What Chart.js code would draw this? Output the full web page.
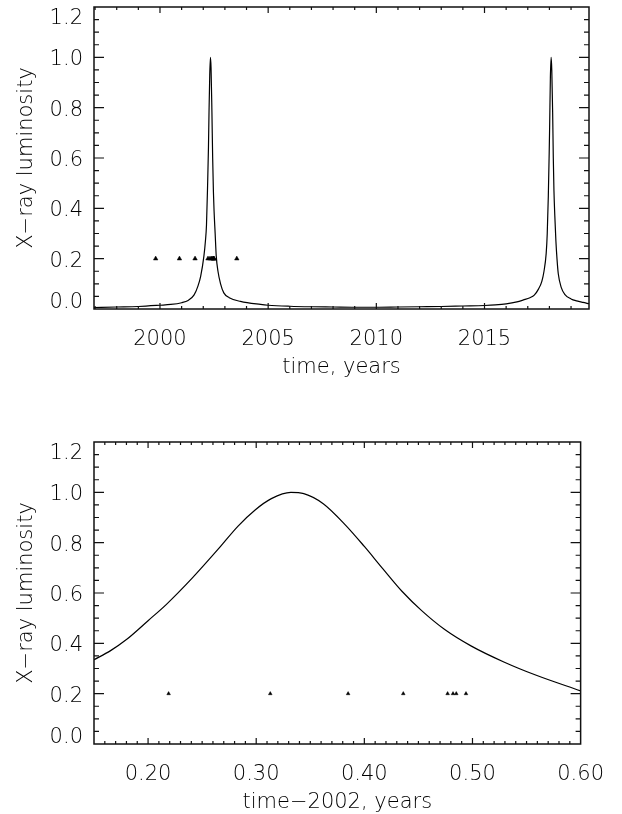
<!DOCTYPE html>
<html>
<head>
<meta charset="utf-8">
<script src="https://cdn.jsdelivr.net/npm/chart.js@4.4.1/dist/chart.umd.min.js"></script>
<style>
  html, body { margin: 0; padding: 0; background: #fff; }
  body { width: 622px; height: 814px; overflow: hidden; position: relative; }
  canvas { position: absolute; left: 0; }
  #topChart { top: 0; }
  #zoomChart { top: 435px; }
</style>
</head>
<body>
<canvas id="topChart" width="622" height="400"></canvas>
<canvas id="zoomChart" width="622" height="400"></canvas>
<script>
// --- top panel: model light curve over the whole cycle
const topYears = [1996.95, 1998.0, 1999.0, 2000.0, 2000.5, 2001.0, 2001.3, 2001.57, 2001.75, 2001.88,
    2002.03, 2002.1, 2002.15, 2002.2, 2002.24, 2002.265, 2002.3, 2002.332, 2002.36, 2002.4,
    2002.435, 2002.47, 2002.5, 2002.55, 2002.6, 2002.68, 2002.8, 2002.95, 2003.2, 2003.72,
    2004.65, 2005.0, 2006.0, 2007.0, 2008.0, 2009.0, 2010.0, 2011.0, 2012.0, 2013.0,
    2014.0, 2015.0, 2015.5, 2016.0, 2016.5, 2016.8, 2017.1, 2017.3, 2017.5, 2017.65,
    2017.75, 2017.85, 2017.9, 2017.95, 2017.99, 2018.01, 2018.045, 2018.08, 2018.11, 2018.15,
    2018.18, 2018.21, 2018.25, 2018.3, 2018.35, 2018.41, 2018.55, 2018.72, 2019.0, 2019.26,
    2019.55, 2019.83];
const topLum = [0.006, 0.008, 0.010, 0.015, 0.018, 0.025, 0.034, 0.055, 0.09, 0.13,
    0.21, 0.27, 0.335, 0.49, 0.64, 0.775, 0.93, 1.0, 0.96, 0.785,
    0.60, 0.465, 0.389, 0.30, 0.211, 0.15, 0.10, 0.064, 0.045, 0.030,
    0.018, 0.015, 0.011, 0.009, 0.008, 0.007, 0.007, 0.008, 0.009, 0.010,
    0.012, 0.014, 0.016, 0.020, 0.028, 0.036, 0.045, 0.055, 0.08, 0.11,
    0.15, 0.22, 0.30, 0.45, 0.62, 0.72, 0.92, 1.0, 0.95, 0.78,
    0.60, 0.47, 0.37, 0.27, 0.20, 0.14, 0.085, 0.057, 0.04, 0.032,
    0.026, 0.021];
const obsYears = [1999.8, 2000.9, 2001.62, 2002.219, 2002.313, 2002.385, 2002.436,
    2002.477, 2002.482, 2002.485, 2002.494, 2003.55];
const obsLevel = [0.2, 0.2, 0.2, 0.2, 0.2, 0.2, 0.2, 0.2, 0.2, 0.2, 0.2, 0.2];

// --- bottom panel: zoom on the 2002 maximum
const zoomPhase = [0.15, 0.165, 0.18, 0.20, 0.217, 0.241, 0.265, 0.283, 0.299, 0.314, 0.332, 0.344,
    0.362, 0.383, 0.40, 0.417, 0.435, 0.453, 0.474, 0.499, 0.529, 0.559, 0.60];
const zoomLum = [0.335, 0.37, 0.415, 0.49, 0.555, 0.66, 0.775, 0.865, 0.93, 0.975, 1.0, 0.995,
    0.955, 0.868, 0.785, 0.697, 0.606, 0.53, 0.456, 0.389, 0.326, 0.273, 0.211];
const obsPhase = [0.219, 0.313, 0.385, 0.436, 0.477, 0.482, 0.485, 0.494];
const obsPhaseLevel = [0.2, 0.2, 0.2, 0.2, 0.2, 0.2, 0.2, 0.2];

// tick labels
const topXTicks = [2000, 2005, 2010, 2015];
const zoomXTicks = [0.20, 0.30, 0.40, 0.50, 0.60];
const yTicks = [0.0, 0.2, 0.4, 0.6, 0.8, 1.0, 1.2];

const FONT = { family: '"DejaVu Sans", "Liberation Sans", sans-serif', size: 21, weight: '200' };

function minorList(from, to, step) {
    const out = [];
    for (let v = from; v <= to + step / 2; v += step) out.push(+v.toFixed(4));
    return out;
}

// IDL-style box: frame, inward ticks on all four sides, y labels
const boxPlugin = {
    id: 'idlBox',
    afterDraw(chart, args, opts) {
        const { ctx, chartArea: a, scales } = chart;
        const x = scales.x, y = scales.y;
        ctx.save();
        ctx.strokeStyle = '#111';
        ctx.lineWidth = 1.2;
        ctx.beginPath();
        const xt = (v, len) => {
            const p = x.getPixelForValue(v);
            if (p < a.left + 1 || p > a.right - 1) return;
            ctx.moveTo(p, a.bottom); ctx.lineTo(p, a.bottom - len);
            ctx.moveTo(p, a.top); ctx.lineTo(p, a.top + len);
        };
        const yt = (v, len) => {
            const p = y.getPixelForValue(v);
            if (p < a.top + 1 || p > a.bottom - 1) return;
            ctx.moveTo(a.left, p); ctx.lineTo(a.left + len, p);
            ctx.moveTo(a.right, p); ctx.lineTo(a.right - len, p);
        };
        opts.xMinor.forEach(v => xt(v, 3));
        opts.xMajor.forEach(v => xt(v, 6));
        opts.yMinor.forEach(v => yt(v, 5));
        opts.yMajor.forEach(v => yt(v, 10));
        ctx.stroke();
        ctx.lineWidth = 1.5;
        ctx.strokeRect(a.left, a.top, a.right - a.left, a.bottom - a.top);

        ctx.fillStyle = '#000';
        ctx.font = `${FONT.weight} ${FONT.size}px ${FONT.family}`;
        ctx.textAlign = 'right';
        ctx.textBaseline = 'alphabetic';
        opts.yMajor.forEach((v, i) => {
            const label = v.toFixed(1);
            const asc = ctx.measureText(label).actualBoundingBoxAscent;
            let base = y.getPixelForValue(v) + asc / 2;
            if (i === 0) base = a.bottom - 1;
            if (i === opts.yMajor.length - 1) base = a.top + 1 + asc;
            ctx.fillText(label, a.left - 11, base);
        });
        ctx.restore();
    }
};

function buildChart(id, cfg) {
    return new Chart(document.getElementById(id), {
        type: 'line',
        data: {
            datasets: [
                {
                    data: cfg.lineX.map((v, i) => ({ x: v, y: cfg.lineY[i] })),
                    borderColor: '#000',
                    borderWidth: 1.2,
                    pointRadius: 0,
                    cubicInterpolationMode: 'monotone',
                    fill: false
                },
                {
                    data: cfg.obsX.map((v, i) => ({ x: v, y: cfg.obsY[i] })),
                    showLine: false,
                    pointStyle: 'triangle',
                    pointRadius: cfg.markerSize,
                    pointBackgroundColor: '#000',
                    pointBorderColor: '#000',
                    pointBorderWidth: 0.5
                }
            ]
        },
        options: {
            responsive: false,
            animation: false,
            layout: { padding: { top: 7, right: 33, left: 0, bottom: 0 } },
            plugins: {
                legend: { display: false },
                tooltip: { enabled: false },
                idlBox: {
                    xMajor: cfg.xTicks,
                    xMinor: cfg.xMinor,
                    yMajor: yTicks,
                    yMinor: minorList(0, 1.2, 0.05)
                }
            },
            scales: {
                x: {
                    type: 'linear',
                    min: cfg.xMin,
                    max: cfg.xMax,
                    grid: { display: false, drawTicks: false },
                    border: { display: false },
                    afterBuildTicks: s => { s.ticks = cfg.xTicks.map(v => ({ value: v })); },
                    afterFit: s => { s.height = 91; },
                    ticks: {
                        color: '#000',
                        font: FONT,
                        padding: 18,
                        maxRotation: 0,
                        autoSkip: false,
                        callback: cfg.xFormat
                    },
                    title: {
                        display: true,
                        text: cfg.xTitle,
                        color: '#000',
                        font: FONT,
                        padding: { top: 0, bottom: 20 }
                    }
                },
                y: {
                    type: 'linear',
                    min: 0,
                    max: 1.2,
                    grid: { display: false, drawTicks: false },
                    border: { display: false },
                    ticks: { display: false },
                    afterFit: s => { s.width = 94; },
                    title: {
                        display: true,
                        text: 'X−ray luminosity',
                        color: '#000',
                        font: FONT,
                        padding: { top: 14, bottom: 0 }
                    }
                }
            }
        },
        plugins: [boxPlugin]
    });
}

buildChart('topChart', {
    lineX: topYears, lineY: topLum,
    obsX: obsYears, obsY: obsLevel,
    markerSize: 2.6,
    xMin: 1996.95, xMax: 2019.83,
    xTicks: topXTicks,
    xMinor: minorList(1997, 2019, 1),
    xFormat: v => String(v),
    xTitle: 'time, years'
});

buildChart('zoomChart', {
    lineX: zoomPhase, lineY: zoomLum,
    obsX: obsPhase, obsY: obsPhaseLevel,
    markerSize: 2.1,
    xMin: 0.15, xMax: 0.60,
    xTicks: zoomXTicks,
    xMinor: minorList(0.15, 0.60, 0.01),
    xFormat: v => v.toFixed(2),
    xTitle: 'time−2002, years'
});
</script>
</body>
</html>
